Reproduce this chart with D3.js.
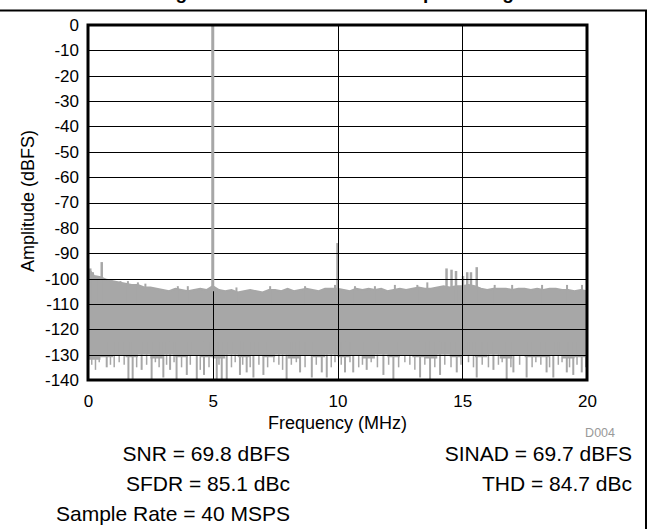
<!DOCTYPE html>
<html><head><meta charset="utf-8">
<script src="https://cdn.jsdelivr.net/npm/d3@7"></script>
<style>
html,body{margin:0;padding:0;background:#fff;}
svg{display:block;font-family:"Liberation Sans",Arial,Helvetica,sans-serif;}
</style></head>
<body>
<svg id="c" width="650" height="529"></svg>
<script>
// ---- data ----
const xTicks = [0, 5, 10, 15, 20];
const yTicks = [0, -10, -20, -30, -40, -50, -60, -70, -80, -90, -100, -110, -120, -130, -140];

// upper edge of the noise floor, every 0.25 MHz from 0 to 20 MHz
const floorTopFreq = d3.range(0, 20.001, 0.25);
const floorTop = [-96, -99, -99.5, -100.5, -101, -101.5, -102, -102.5, -102.5, -103.5, -103.5, -104, -104.5, -105, -104, -104.5,
  -105, -104.5, -104, -104.5, -103, -104.5, -105, -104.5, -105.5, -105, -104.5, -105, -105.5, -104.5, -104.5, -105,
  -104, -105, -104.5, -104, -104.5, -105, -104, -104, -104, -104.5, -105, -104, -104.5, -104, -104.5, -104,
  -105, -104.5, -104, -104.5, -104, -103.5, -104, -104, -103.5, -103, -103.5, -103, -103, -102.5, -103, -104,
  -104.5, -104, -104, -104, -104.5, -104, -104, -104.5, -104, -104.5, -104, -104, -104.5, -104.5, -105, -104.5, -105];

// small peaks poking out of the top of the floor
const floorPeakFreq = [0.1, 0.2, 0.35, 1.3, 1.6, 2.0, 2.3, 3.6, 4.0, 5.95, 7.3, 8.7, 9.9, 10.7, 11.5, 12.3, 13.2, 13.6, 16.3, 17.0, 18.2, 19.2, 19.8];
const floorPeak = [-96, -97.5, -99, -101, -101, -101.5, -102, -103, -103, -103.5, -103, -103, -102.5, -103, -103, -102.5, -102.5, -101.5, -102.5, -102.5, -102.5, -102.5, -102.5];

// lower edge of the dense noise band, every 0.5 MHz
const floorBottomFreq = d3.range(0, 20.001, 0.5);
const floorBottom = [-132, -131, -130.5, -131, -130, -131.5, -130, -131, -130.5, -131, -131.5, -130, -131, -130.5,
  -131, -130, -131.5, -130.5, -131, -130, -131, -130.5, -131.5, -130, -131, -130.5, -131, -131.5, -130, -131,
  -130.5, -131, -130, -131.5, -130.5, -131, -131, -130.5, -131.5, -131, -132];

// deep downward noise spikes (frequency MHz, minimum dBFS)
const dipFreq = [0.75, 1.62, 1.79, 2.15, 2.55, 3.02, 3.29, 3.55, 3.96, 4.36, 4.65, 5.16, 5.36, 5.56, 6.09, 6.36, 6.63, 7.03,
  7.96, 8.5, 8.97, 9.37, 9.57, 10.3, 10.63, 11.17, 11.84, 12.24, 13.31, 13.71, 14.11, 14.78, 15.58, 16.25, 16.78,
  17.05, 17.58, 18.38, 18.65, 19.19, 19.45, 19.79];
const dipLevel = [-135, -140, -140, -136, -140, -139, -136, -140, -138, -140, -138, -140, -140, -140, -138, -137, -139, -138,
  -140, -137, -139, -137, -139, -137, -137, -136, -138, -140, -139, -140, -138, -137, -139, -136, -140,
  -137, -139, -137, -139, -137, -138, -137];

// shallower downward noise spikes
const smallDipFreq = [0.15, 0.3, 0.45, 0.9, 1.05, 1.25, 1.45, 1.95, 2.35, 2.7, 2.85, 3.15, 3.45, 3.75, 4.1, 4.5, 4.85, 5.25,
  5.75, 5.9, 6.2, 6.5, 6.85, 7.2, 7.45, 7.65, 7.8, 8.15, 8.35, 8.7, 9.15, 9.75, 9.9, 10.15, 10.5, 10.85, 11.0, 11.35,
  11.6, 12.05, 12.45, 12.7, 12.9, 13.1, 13.5, 13.9, 14.3, 14.55, 14.95, 15.25, 15.45, 15.8, 16.05, 16.45, 16.6, 16.95,
  17.3, 17.8, 17.95, 18.15, 18.5, 18.85, 19.0, 19.3, 19.6, 19.95];
const smallDipLevel = [-134, -136, -133, -134, -135, -133, -134, -135, -134, -133, -135, -134, -133, -135, -134, -136, -135, -134,
  -135, -133, -134, -135, -134, -135, -133, -134, -136, -134, -133, -135, -134, -135, -133, -134, -133, -135, -134, -133,
  -135, -134, -135, -133, -134, -136, -134, -135, -134, -135, -134, -133, -135, -134, -135, -134, -133, -135,
  -134, -135, -133, -134, -135, -134, -133, -135, -134, -135];

// spurs rising above the floor (frequency MHz, peak dBFS)
const spurFreq = [0.55, 10.0, 14.37, 14.57, 14.75, 15.03, 15.2, 15.35, 15.58];
const spurLevel = [-93.5, -86, -96, -96.5, -97, -99, -97.5, -97.5, -95.5];

// fundamental tone
const toneFreq = [5.0];
const toneLevel = [-0.3];

const statsLeft = ["SNR = 69.8 dBFS", "SFDR = 85.1 dBc", "Sample Rate = 40 MSPS"];
const statsRight = ["SINAD = 69.7 dBFS", "THD = 84.7 dBc"];

// ---- drawing ----
const svg = d3.select("#c");
const L = 88, R = 587, T = 25, B = 380;
const x = d3.scaleLinear().domain([0, 20]).range([L, R]);
const y = d3.scaleLinear().domain([0, -140]).range([T, B]);
const gray = "#a7a7a7";

// outer frame (top and right edges)
svg.append("line").attr("x1", 0).attr("x2", 647).attr("y1", 10.5).attr("y2", 10.5).attr("stroke", "#000").attr("stroke-width", 2);
svg.append("line").attr("x1", 646).attr("x2", 646).attr("y1", 10).attr("y2", 529).attr("stroke", "#000").attr("stroke-width", 2);

// title, cut off by the top edge as in the reference (only descenders show)
svg.append("text").attr("x", 146).attr("y", -1.5).attr("text-anchor", "start")
  .attr("font-weight", "bold").attr("font-size", 19)
  .text("Single-Tone FFT With 5-MHz Input Swing");

const plot = svg.append("g");
plot.append("clipPath").attr("id", "pc").append("rect").attr("x", L).attr("y", T).attr("width", R - L).attr("height", B - T);
const data = plot.append("g").attr("clip-path", "url(#pc)");

// noise band
const topPts = floorTopFreq.map((f, i) => [f, floorTop[i]]);
data.append("path")
  .datum(topPts)
  .attr("d", d3.area().x(d => x(d[0])).y0(d => y(-120)).y1(d => y(d[1])))
  .attr("fill", gray);
data.append("path")
  .datum(floorBottomFreq.map((f, i) => [f, floorBottom[i]]))
  .attr("d", d3.area().x(d => x(d[0])).y0(d => y(d[1])).y1(y(-115)).curve(d3.curveStepAfter))
  .attr("fill", gray);
// upper edge line
data.append("path")
  .datum(topPts)
  .attr("d", d3.line().x(d => x(d[0])).y(d => y(d[1])))
  .attr("fill", "none").attr("stroke", gray).attr("stroke-width", 2);

// small top peaks
data.selectAll("line.pk").data(floorPeakFreq).enter().append("line")
  .attr("x1", d => x(d)).attr("x2", d => x(d))
  .attr("y1", y(-110)).attr("y2", (d, i) => y(floorPeak[i]))
  .attr("stroke", gray).attr("stroke-width", 2);

// dips
data.selectAll("line.sdip").data(smallDipFreq).enter().append("line")
  .attr("x1", d => x(d)).attr("x2", d => x(d))
  .attr("y1", y(-125)).attr("y2", (d, i) => y(smallDipLevel[i]))
  .attr("stroke", gray).attr("stroke-width", 1.5);
data.selectAll("line.dip").data(dipFreq).enter().append("line")
  .attr("x1", d => x(d)).attr("x2", d => x(d))
  .attr("y1", y(-125)).attr("y2", (d, i) => y(dipLevel[i]))
  .attr("stroke", gray).attr("stroke-width", 2);

// spurs
data.selectAll("line.spur").data(spurFreq).enter().append("line")
  .attr("x1", d => x(d)).attr("x2", d => x(d))
  .attr("y1", y(-110)).attr("y2", (d, i) => y(spurLevel[i]))
  .attr("stroke", gray).attr("stroke-width", 2.5);

// grid
const grid = plot.append("g");
grid.selectAll("line.h").data(yTicks).enter().append("line")
  .attr("x1", L).attr("x2", R).attr("y1", d => Math.round(y(d)) + 0.5).attr("y2", d => Math.round(y(d)) + 0.5)
  .attr("stroke", "#000").attr("stroke-width", 1);
grid.selectAll("line.v").data(xTicks).enter().append("line")
  .attr("x1", d => Math.round(x(d)) + 0.5).attr("x2", d => Math.round(x(d)) + 0.5).attr("y1", T).attr("y2", B)
  .attr("stroke", "#000").attr("stroke-width", 1);

// fundamental on top
plot.append("g").attr("clip-path", "url(#pc)").selectAll("line").data(toneFreq).enter().append("line")
  .attr("x1", d => x(d)).attr("x2", d => x(d))
  .attr("y1", y(-105)).attr("y2", (d, i) => y(toneLevel[i]))
  .attr("stroke", gray).attr("stroke-width", 3);

// border
plot.append("rect").attr("x", L).attr("y", T).attr("width", R - L).attr("height", B - T)
  .attr("fill", "none").attr("stroke", "#000").attr("stroke-width", 3);

// axes
const fmt = d => String(d);
const yAxis = svg.append("g").attr("transform", `translate(${L - 9},0)`)
  .call(d3.axisLeft(y).tickValues(yTicks).tickSize(0).tickPadding(0).tickFormat(fmt));
yAxis.select(".domain").remove();
yAxis.selectAll("text").attr("font-size", 17).attr("font-family", "Liberation Sans, Arial, sans-serif").attr("fill", "#000");

const xAxis = svg.append("g").attr("transform", `translate(0,${B})`)
  .call(d3.axisBottom(x).tickValues(xTicks).tickSize(0).tickPadding(0).tickFormat(fmt));
xAxis.select(".domain").remove();
xAxis.selectAll("text").attr("font-size", 17).attr("font-family", "Liberation Sans, Arial, sans-serif").attr("fill", "#000")
  .attr("dy", null).attr("y", 27);

// axis titles
svg.append("text").attr("x", (L + R) / 2).attr("y", 429).attr("text-anchor", "middle").attr("font-size", 18).text("Frequency (MHz)");
svg.append("text").attr("transform", "translate(34,201) rotate(-90)").attr("text-anchor", "middle").attr("font-size", 18).text("Amplitude (dBFS)");

svg.append("text").attr("x", 615).attr("y", 437).attr("text-anchor", "end").attr("font-size", 12.5).attr("fill", "#999").text("D004");

// stats
svg.selectAll("text.sl").data(statsLeft).enter().append("text")
  .attr("x", 290).attr("y", (d, i) => 461 + i * 30).attr("text-anchor", "end").attr("font-size", 21).text(d => d);
svg.selectAll("text.sr").data(statsRight).enter().append("text")
  .attr("x", 632).attr("y", (d, i) => 461 + i * 30).attr("text-anchor", "end").attr("font-size", 21).text(d => d);
</script>
</body></html>
